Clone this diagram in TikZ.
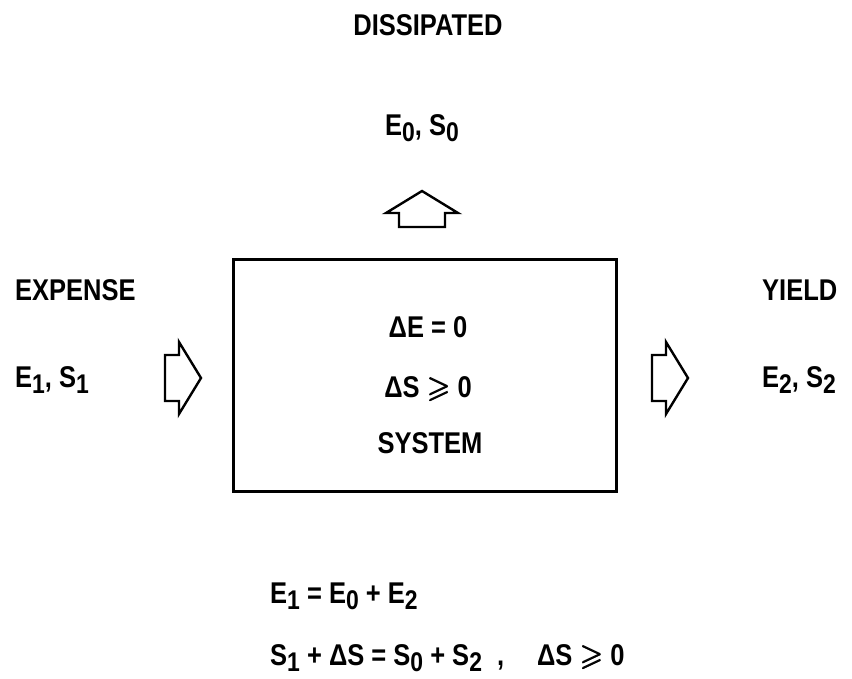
\documentclass[tikz,border=0pt]{standalone}
\usepackage{amssymb}
\usepackage{fontspec}
\setmainfont{Liberation Sans}[FakeStretch=0.85]
% lowered index digits, as in E_1, S_0
\newcommand\lsub[1]{\raisebox{-0.2em}{\fontsize{27}{30}\selectfont\bfseries #1}}
% slanted greater-or-equal, thickened by overprinting
\newcommand\sgeq{\rlap{$\geqslant$}\kern0.7pt\rlap{$\geqslant$}\kern-0.35pt\raisebox{0.5pt}{$\geqslant$}}
\begin{document}
\begin{tikzpicture}[x=1pt,y=-1pt,
  lbl/.style={inner sep=0pt, font=\fontsize{30}{36}\selectfont\bfseries},
  frame/.style={draw, line width=2.8pt, inner sep=0pt},
  arrowline/.style={line width=2.4pt, line join=miter},
  blockarrow/.pic={\draw[arrowline] (0,-23) -- (14,-23) -- (14,-36) -- (36,0)
      -- (14,36) -- (14,23) -- (0,23) -- cycle;}
]
\useasboundingbox (0,0) rectangle (852,678);

% the system box
\node (system) [frame, anchor=north west, minimum width=383pt, minimum height=232pt] at (232,258) {};
\node (dE)  [lbl, anchor=base] at (428,337) {ΔE = 0};
\node (dS)  [lbl, anchor=base] at (428,397) {ΔS \sgeq\ 0};
\node (sys) [lbl, anchor=base] at (430,453) {SYSTEM};

% expense side
\node (expense) [lbl, anchor=base west] at (15,300) {EXPENSE};
\node (in)      [lbl, anchor=base west] at (15,387) {E\lsub{1}, S\lsub{1}};
\pic at (165,378) {blockarrow};

% yield side
\node (yield) [lbl, anchor=base west] at (762,300) {YIELD};
\node (out)   [lbl, anchor=base west] at (762,387) {E\lsub{2}, S\lsub{2}};
\pic at (652,378) {blockarrow};

% dissipated part
\node (diss) [lbl, anchor=base] at (428,35) {DISSIPATED};
\node (loss) [lbl, anchor=base] at (422,135) {E\lsub{0}, S\lsub{0}};
\pic[rotate=90] at (422,227) {blockarrow};

% balance equations
\node (eqE) [lbl, anchor=base west] at (270,603) {E\lsub{1} = E\lsub{0} + E\lsub{2}};
\node (eqS) [lbl, anchor=base west] at (270,665)
  {S\lsub{1} + ΔS = S\lsub{0} + S\lsub{2}\hspace{0.5em},\hspace{1.1em}ΔS \sgeq\ 0};
\end{tikzpicture}
\end{document}
